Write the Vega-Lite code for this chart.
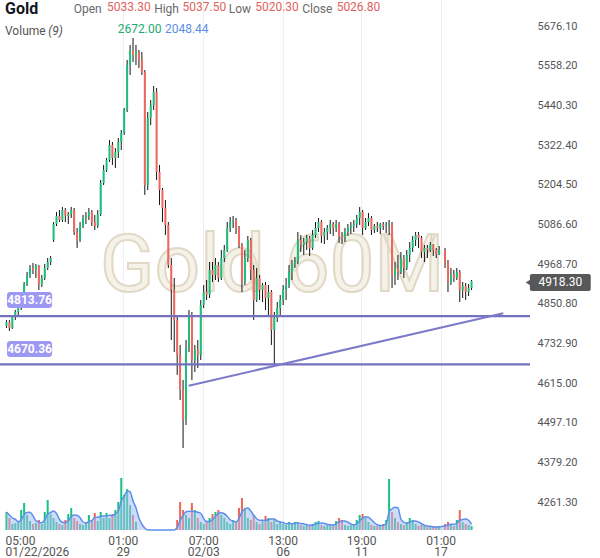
{
"$schema":"https://vega.github.io/schema/vega-lite/v6.json",
"width":530,"height":533,
"autosize":{"type":"none"},
"padding":{"left":0,"top":0,"right":70,"bottom":25},
"background":"white",
"config":{"view":{"stroke":null},"font":"Roboto","axis":{"labelFont":"Roboto"},"text":{"font":"Roboto"}},
"datasets":{"candles":[
{"i":0,"o":4784.5,"h":4802.4,"l":4778.6,"c":4796.4,"v":1800},
{"i":1,"o":4796.4,"h":4802.4,"l":4769.7,"c":4778.6,"v":1200},
{"i":2,"o":4778.6,"h":4817.2,"l":4775.6,"c":4814.2,"v":600},
{"i":3,"o":4814.2,"h":4832.1,"l":4802.4,"c":4826.1,"v":700},
{"i":4,"o":4826.1,"h":4843.9,"l":4814.2,"c":4838.0,"v":800},
{"i":5,"o":4838.0,"h":4873.7,"l":4832.1,"c":4867.7,"v":2000},
{"i":6,"o":4867.7,"h":4915.3,"l":4861.8,"c":4909.4,"v":2700},
{"i":7,"o":4909.4,"h":4945.0,"l":4903.4,"c":4933.1,"v":1500},
{"i":8,"o":4933.1,"h":4965.8,"l":4927.2,"c":4956.9,"v":900},
{"i":9,"o":4956.9,"h":4971.8,"l":4939.1,"c":4951.0,"v":600},
{"i":10,"o":4951.0,"h":4968.8,"l":4927.2,"c":4962.8,"v":700},
{"i":11,"o":4962.8,"h":4965.8,"l":4891.5,"c":4906.4,"v":1000},
{"i":12,"o":4906.4,"h":4936.1,"l":4900.4,"c":4927.2,"v":600},
{"i":13,"o":4927.2,"h":4968.8,"l":4921.2,"c":4956.9,"v":1800},
{"i":14,"o":4956.9,"h":4986.6,"l":4951.0,"c":4974.7,"v":3000},
{"i":15,"o":4974.7,"h":4992.6,"l":4965.8,"c":4986.6,"v":1600},
{"i":16,"o":5040.1,"h":5093.6,"l":5034.2,"c":5087.7,"v":1200},
{"i":17,"o":5087.7,"h":5123.3,"l":5081.7,"c":5111.4,"v":800},
{"i":18,"o":5111.4,"h":5129.3,"l":5093.6,"c":5099.6,"v":600},
{"i":19,"o":5099.6,"h":5138.2,"l":5093.6,"c":5129.3,"v":500},
{"i":20,"o":5129.3,"h":5135.2,"l":5093.6,"c":5111.4,"v":1000},
{"i":21,"o":5111.4,"h":5123.3,"l":5087.7,"c":5117.4,"v":1600},
{"i":22,"o":5117.4,"h":5138.2,"l":5105.5,"c":5129.3,"v":2200},
{"i":23,"o":5129.3,"h":5135.2,"l":5055.0,"c":5063.9,"v":1200},
{"i":24,"o":5063.9,"h":5075.8,"l":5016.3,"c":5040.1,"v":900},
{"i":25,"o":5040.1,"h":5093.6,"l":5034.2,"c":5081.7,"v":600},
{"i":26,"o":5081.7,"h":5114.4,"l":5075.8,"c":5105.5,"v":500},
{"i":27,"o":5105.5,"h":5123.3,"l":5087.7,"c":5111.4,"v":800},
{"i":28,"o":5111.4,"h":5135.2,"l":5099.6,"c":5123.3,"v":1500},
{"i":29,"o":5123.3,"h":5129.3,"l":5081.7,"c":5093.6,"v":1000},
{"i":30,"o":5093.6,"h":5114.4,"l":5069.8,"c":5081.7,"v":1700},
{"i":31,"o":5081.7,"h":5129.3,"l":5075.8,"c":5117.4,"v":900},
{"i":32,"o":5117.4,"h":5218.4,"l":5111.4,"c":5209.5,"v":1800},
{"i":33,"o":5209.5,"h":5263.0,"l":5203.6,"c":5248.2,"v":1200},
{"i":34,"o":5248.2,"h":5283.8,"l":5242.2,"c":5277.9,"v":1700},
{"i":35,"o":5277.9,"h":5337.3,"l":5271.9,"c":5322.5,"v":1200},
{"i":36,"o":5322.5,"h":5331.4,"l":5263.0,"c":5283.8,"v":1600},
{"i":37,"o":5283.8,"h":5313.5,"l":5254.1,"c":5301.7,"v":2000},
{"i":38,"o":5301.7,"h":5343.3,"l":5283.8,"c":5331.4,"v":2800},
{"i":39,"o":5331.4,"h":5367.0,"l":5307.6,"c":5358.1,"v":5200},
{"i":40,"o":5358.1,"h":5432.4,"l":5352.2,"c":5426.5,"v":3500},
{"i":41,"o":5426.5,"h":5575.1,"l":5420.5,"c":5560.2,"v":4100},
{"i":42,"o":5560.2,"h":5619.7,"l":5530.5,"c":5604.8,"v":2500},
{"i":43,"o":5604.8,"h":5640.5,"l":5569.1,"c":5589.9,"v":1500},
{"i":44,"o":5589.9,"h":5619.7,"l":5560.2,"c":5598.9,"v":800},
{"i":45,"o":5598.9,"h":5604.8,"l":5551.3,"c":5575.1,"v":0},
{"i":46,"o":5575.1,"h":5598.9,"l":5530.5,"c":5539.4,"v":0},
{"i":47,"o":5539.4,"h":5545.4,"l":5173.9,"c":5203.6,"v":0},
{"i":48,"o":5203.6,"h":5420.5,"l":5188.7,"c":5402.7,"v":0},
{"i":49,"o":5402.7,"h":5456.2,"l":5381.9,"c":5441.3,"v":0},
{"i":50,"o":5441.3,"h":5497.8,"l":5426.5,"c":5480.0,"v":0},
{"i":51,"o":5480.0,"h":5491.9,"l":5218.4,"c":5242.2,"v":0},
{"i":52,"o":5242.2,"h":5263.0,"l":5144.1,"c":5188.7,"v":0},
{"i":53,"o":5188.7,"h":5194.7,"l":5093.6,"c":5135.2,"v":0},
{"i":54,"o":5135.2,"h":5159.0,"l":5055.0,"c":5084.7,"v":0},
{"i":55,"o":5084.7,"h":5093.6,"l":4956.9,"c":4965.8,"v":0},
{"i":56,"o":4965.8,"h":4986.6,"l":4742.9,"c":4891.5,"v":0},
{"i":57,"o":4891.5,"h":4927.2,"l":4707.3,"c":4802.4,"v":0},
{"i":58,"o":4802.4,"h":4817.2,"l":4638.9,"c":4698.3,"v":1000},
{"i":59,"o":4698.3,"h":4728.1,"l":4564.6,"c":4594.3,"v":2800},
{"i":60,"o":4594.3,"h":4624.0,"l":4422.0,"c":4505.2,"v":2000},
{"i":61,"o":4505.2,"h":4742.9,"l":4490.3,"c":4719.1,"v":1500},
{"i":62,"o":4719.1,"h":4832.1,"l":4707.3,"c":4817.2,"v":1200},
{"i":63,"o":4817.2,"h":4826.1,"l":4624.0,"c":4683.5,"v":2700},
{"i":64,"o":4683.5,"h":4728.1,"l":4647.8,"c":4713.2,"v":2000},
{"i":65,"o":4713.2,"h":4742.9,"l":4659.7,"c":4698.3,"v":1200},
{"i":66,"o":4698.3,"h":4861.8,"l":4683.5,"c":4846.9,"v":800},
{"i":67,"o":4846.9,"h":4906.4,"l":4838.0,"c":4885.6,"v":600},
{"i":68,"o":4885.6,"h":4921.2,"l":4861.8,"c":4876.7,"v":800},
{"i":69,"o":4876.7,"h":4974.7,"l":4867.7,"c":4951.0,"v":1200},
{"i":70,"o":4951.0,"h":4974.7,"l":4915.3,"c":4936.1,"v":1600},
{"i":71,"o":4936.1,"h":4986.6,"l":4921.2,"c":4965.8,"v":1800},
{"i":72,"o":4965.8,"h":4974.7,"l":4915.3,"c":4927.2,"v":2000},
{"i":73,"o":4927.2,"h":5010.4,"l":4921.2,"c":4986.6,"v":1500},
{"i":74,"o":4986.6,"h":5025.3,"l":4974.7,"c":5010.4,"v":1200},
{"i":75,"o":5010.4,"h":5093.6,"l":5004.5,"c":5075.8,"v":800},
{"i":76,"o":5075.8,"h":5108.5,"l":5063.9,"c":5093.6,"v":600},
{"i":77,"o":5093.6,"h":5111.4,"l":5075.8,"c":5099.6,"v":1000},
{"i":78,"o":5099.6,"h":5105.5,"l":5057.9,"c":5075.8,"v":800},
{"i":79,"o":5075.8,"h":5081.7,"l":5016.3,"c":5025.3,"v":2200},
{"i":80,"o":5025.3,"h":5031.2,"l":4885.6,"c":4915.3,"v":3200},
{"i":81,"o":4915.3,"h":5010.4,"l":4906.4,"c":4986.6,"v":2200},
{"i":82,"o":4986.6,"h":5052.0,"l":4974.7,"c":5040.1,"v":1200},
{"i":83,"o":5040.1,"h":5046.1,"l":4921.2,"c":4951.0,"v":1000},
{"i":84,"o":4951.0,"h":4965.8,"l":4802.4,"c":4861.8,"v":1500},
{"i":85,"o":4861.8,"h":4956.9,"l":4855.9,"c":4927.2,"v":800},
{"i":86,"o":4927.2,"h":4936.1,"l":4861.8,"c":4891.5,"v":600},
{"i":87,"o":4891.5,"h":4912.3,"l":4855.9,"c":4906.4,"v":1000},
{"i":88,"o":4906.4,"h":4915.3,"l":4832.1,"c":4867.7,"v":1400},
{"i":89,"o":4867.7,"h":4906.4,"l":4817.2,"c":4885.6,"v":1200},
{"i":90,"o":4885.6,"h":4891.5,"l":4728.1,"c":4772.6,"v":800},
{"i":91,"o":4772.6,"h":4826.1,"l":4668.6,"c":4808.3,"v":1000},
{"i":92,"o":4808.3,"h":4855.9,"l":4796.4,"c":4838.0,"v":600},
{"i":93,"o":4838.0,"h":4876.7,"l":4814.2,"c":4861.8,"v":800},
{"i":94,"o":4861.8,"h":4906.4,"l":4846.9,"c":4891.5,"v":600},
{"i":95,"o":4891.5,"h":4927.2,"l":4861.8,"c":4906.4,"v":500},
{"i":96,"o":4906.4,"h":4965.8,"l":4897.5,"c":4945.0,"v":800},
{"i":97,"o":4945.0,"h":4980.7,"l":4921.2,"c":4965.8,"v":600},
{"i":98,"o":4965.8,"h":4989.6,"l":4956.9,"c":4974.7,"v":800},
{"i":99,"o":4974.7,"h":5063.9,"l":4968.8,"c":5040.1,"v":700},
{"i":100,"o":5040.1,"h":5055.0,"l":5004.5,"c":5025.3,"v":500},
{"i":101,"o":5025.3,"h":5046.1,"l":4995.5,"c":5034.2,"v":400},
{"i":102,"o":5034.2,"h":5055.0,"l":5010.4,"c":5046.1,"v":600},
{"i":103,"o":5046.1,"h":5052.0,"l":4992.6,"c":5016.3,"v":400},
{"i":104,"o":5016.3,"h":5069.8,"l":5010.4,"c":5055.0,"v":600},
{"i":105,"o":5055.0,"h":5093.6,"l":5046.1,"c":5075.8,"v":800},
{"i":106,"o":5075.8,"h":5105.5,"l":5063.9,"c":5093.6,"v":900},
{"i":107,"o":5093.6,"h":5099.6,"l":5031.2,"c":5052.0,"v":500},
{"i":108,"o":5052.0,"h":5075.8,"l":5028.2,"c":5063.9,"v":400},
{"i":109,"o":5063.9,"h":5084.7,"l":5040.1,"c":5075.8,"v":500},
{"i":110,"o":5075.8,"h":5099.6,"l":5057.9,"c":5087.7,"v":600},
{"i":111,"o":5087.7,"h":5093.6,"l":5052.0,"c":5075.8,"v":500},
{"i":112,"o":5075.8,"h":5099.6,"l":5063.9,"c":5087.7,"v":900},
{"i":113,"o":5087.7,"h":5093.6,"l":5031.2,"c":5052.0,"v":1200},
{"i":114,"o":5052.0,"h":5063.9,"l":5028.2,"c":5046.1,"v":1000},
{"i":115,"o":5046.1,"h":5075.8,"l":5034.2,"c":5063.9,"v":500},
{"i":116,"o":5063.9,"h":5087.7,"l":5052.0,"c":5075.8,"v":400},
{"i":117,"o":5075.8,"h":5093.6,"l":5057.9,"c":5081.7,"v":500},
{"i":118,"o":5081.7,"h":5099.6,"l":5063.9,"c":5087.7,"v":600},
{"i":119,"o":5087.7,"h":5114.4,"l":5075.8,"c":5105.5,"v":1000},
{"i":120,"o":5105.5,"h":5138.2,"l":5084.7,"c":5123.3,"v":1500},
{"i":121,"o":5123.3,"h":5129.3,"l":5055.0,"c":5075.8,"v":1600},
{"i":122,"o":5075.8,"h":5105.5,"l":5069.8,"c":5093.6,"v":1200},
{"i":123,"o":5093.6,"h":5120.4,"l":5081.7,"c":5105.5,"v":800},
{"i":124,"o":5105.5,"h":5111.4,"l":5055.0,"c":5069.8,"v":500},
{"i":125,"o":5069.8,"h":5087.7,"l":5060.9,"c":5081.7,"v":400},
{"i":126,"o":5081.7,"h":5093.6,"l":5063.9,"c":5075.8,"v":400},
{"i":127,"o":5075.8,"h":5090.6,"l":5057.9,"c":5087.7,"v":500},
{"i":128,"o":5087.7,"h":5093.6,"l":5069.8,"c":5081.7,"v":600},
{"i":129,"o":5081.7,"h":5093.6,"l":5060.9,"c":5084.7,"v":1000},
{"i":130,"o":5084.7,"h":5099.6,"l":5055.0,"c":5090.6,"v":5100},
{"i":131,"o":5090.6,"h":5093.6,"l":4897.5,"c":4936.1,"v":1800},
{"i":132,"o":4936.1,"h":4974.7,"l":4906.4,"c":4956.9,"v":1200},
{"i":133,"o":4956.9,"h":4995.5,"l":4921.2,"c":4945.0,"v":800},
{"i":134,"o":4945.0,"h":5004.5,"l":4939.1,"c":4986.6,"v":600},
{"i":135,"o":4986.6,"h":4995.5,"l":4927.2,"c":4956.9,"v":500},
{"i":136,"o":4956.9,"h":5010.4,"l":4951.0,"c":4995.5,"v":800},
{"i":137,"o":4995.5,"h":5034.2,"l":4974.7,"c":5016.3,"v":1200},
{"i":138,"o":5016.3,"h":5052.0,"l":5004.5,"c":5040.1,"v":1000},
{"i":139,"o":5040.1,"h":5063.9,"l":5022.3,"c":5055.0,"v":600},
{"i":140,"o":5055.0,"h":5063.9,"l":5016.3,"c":5046.1,"v":400},
{"i":141,"o":5046.1,"h":5052.0,"l":4986.6,"c":5004.5,"v":500},
{"i":142,"o":5004.5,"h":5025.3,"l":4974.7,"c":5016.3,"v":400},
{"i":143,"o":5016.3,"h":5025.3,"l":4986.6,"c":5010.4,"v":300},
{"i":144,"o":5010.4,"h":5034.2,"l":5004.5,"c":5025.3,"v":300},
{"i":145,"o":5025.3,"h":5028.2,"l":4992.6,"c":5010.4,"v":300},
{"i":146,"o":5010.4,"h":5016.3,"l":4986.6,"c":4998.5,"v":300},
{"i":147,"o":4998.5,"h":5022.3,"l":4995.5,"c":5010.4,"v":400},
{"i":149,"o":5010.4,"h":5016.3,"l":4956.9,"c":4974.7,"v":600},
{"i":150,"o":4974.7,"h":4980.7,"l":4885.6,"c":4915.3,"v":800},
{"i":151,"o":4915.3,"h":4956.9,"l":4906.4,"c":4936.1,"v":500},
{"i":152,"o":4936.1,"h":4951.0,"l":4915.3,"c":4927.2,"v":400},
{"i":153,"o":4927.2,"h":4956.9,"l":4921.2,"c":4945.0,"v":1000},
{"i":154,"o":4945.0,"h":4951.0,"l":4855.9,"c":4891.5,"v":2000},
{"i":155,"o":4891.5,"h":4915.3,"l":4867.7,"c":4903.4,"v":800},
{"i":156,"o":4903.4,"h":4912.3,"l":4861.8,"c":4885.6,"v":600},
{"i":157,"o":4885.6,"h":4909.4,"l":4873.7,"c":4897.5,"v":500},
{"i":158,"o":4897.5,"h":4921.2,"l":4891.5,"c":4918.3,"v":400}
]},
"data":{"name":"candles"},
"layer":[
{"layer":[
{"data":{"values":[{}]},"mark":{"type":"text","text":"Gold 60M","align":"center","baseline":"alphabetic","fontSize":80,"fontWeight":400,"fill":"#f5f2ea","stroke":"#e1d9c5","strokeWidth":2},
 "encoding":{"x":{"datum":90.3},"y":{"datum":4888.6}}},
{"mark":{"type":"rule","color":"#151515","strokeWidth":1},
 "encoding":{
  "x":{"field":"i","type":"quantitative","title":null,"scale":{"domain":[-0.5,176.1667],"nice":false,"zero":false},
   "axis":{"values":[-0.5,39.5,66.83,93.83,120.5,147.5],
    "labelExpr":"datum.value < 0 ? ['05:00','01/22/2026'] : datum.value < 50 ? ['01:00','29'] : datum.value < 80 ? ['07:00','02/03'] : datum.value < 100 ? ['13:00','06'] : datum.value < 130 ? ['19:00','11'] : ['01:00','17']",
    "domain":false,"ticks":false,"grid":true,"gridColor":"#efefef",
    "gridOpacity":{"condition":{"test":"datum.value < 0","value":0},"value":1},
    "labelAlign":{"condition":{"test":"datum.value < 0","value":"left"},"value":"center"},
    "labelColor":"#555","labelFontSize":12,"labelPadding":2,"labelLineHeight":11.5,"labelOverlap":false,"labelBound":false,"title":null}},
  "y":{"field":"l","type":"quantitative","title":null,"scale":{"domain":[4169.3,5753.4],"nice":false,"zero":false},
   "axis":{"orient":"right","values":[4261.3,4379.2,4497.1,4615.0,4732.9,4850.8,4968.7,5086.6,5204.5,5322.4,5440.3,5558.2,5676.1],
    "format":".2f","domain":false,"ticks":false,"gridColor":"#efefef","labelColor":"#555","labelFontSize":11,"labelPadding":7,"labelOverlap":false,"title":null}},
  "y2":{"field":"h"}}},
{"mark":{"type":"bar","size":2},
 "encoding":{
  "x":{"field":"i","type":"quantitative","title":null},
  "y":{"field":"o","type":"quantitative","title":null},
  "y2":{"field":"c"},
  "color":{"condition":{"test":"datum.c >= datum.o","value":"#1bbf7b"},"value":"#f1665c"}}},
{"data":{"values":[{}]},"mark":{"type":"rule","color":"#7471bf","strokeWidth":2.2},"encoding":{"y":{"datum":4813.76}}},
{"data":{"values":[{}]},"mark":{"type":"rule","color":"#7471bf","strokeWidth":2.2},"encoding":{"y":{"datum":4670.36}}},
{"data":{"values":[{}]},"mark":{"type":"rule","color":"#7d7ac9","strokeWidth":2},
 "encoding":{"x":{"datum":61.9},"y":{"datum":4607.1},"x2":{"datum":168.8},"y2":{"datum":4822.6}}},
{"data":{"values":[{}]},"mark":{"type":"rect","fill":"#9d99f2","cornerRadius":3},
 "encoding":{"x":{"datum":0.17},"x2":{"datum":15.5},"y":{"datum":4885.6},"y2":{"datum":4838.0}}},
{"data":{"values":[{}]},"mark":{"type":"text","text":"4813.76","color":"white","fontWeight":"bold","fontSize":12,"align":"center","baseline":"middle"},
 "encoding":{"x":{"datum":7.83},"y":{"datum":4861.0}}},
{"data":{"values":[{}]},"mark":{"type":"rect","fill":"#9d99f2","cornerRadius":3},
 "encoding":{"x":{"datum":0.17},"x2":{"datum":15.5},"y":{"datum":4740.0},"y2":{"datum":4692.4}}},
{"data":{"values":[{}]},"mark":{"type":"text","text":"4670.36","color":"white","fontWeight":"bold","fontSize":12,"align":"center","baseline":"middle"},
 "encoding":{"x":{"datum":7.83},"y":{"datum":4715.5}}},
{"data":{"values":[{}]},"mark":{"type":"rect","fill":"#585858","cornerRadius":2},
 "encoding":{"x":{"datum":177.83},"x2":{"datum":198.5},"y":{"datum":4939.1},"y2":{"datum":4888.6}}},
{"data":{"values":[{}]},"mark":{"type":"point","shape":"triangle-left","filled":true,"color":"#585858","size":40,"opacity":1},
 "encoding":{"x":{"datum":177.3},"y":{"datum":4913.8}}},
{"data":{"values":[{}]},"mark":{"type":"text","text":"4918.30","color":"white","fontSize":12,"align":"center","baseline":"middle"},
 "encoding":{"x":{"datum":188.2},"y":{"datum":4913.8}}},
{"data":{"values":[{}]},"mark":{"type":"text","text":"Gold","color":"#131722","fontWeight":"bold","fontSize":16,"align":"left","baseline":"alphabetic"},
 "encoding":{"x":{"datum":-0.5},"y":{"datum":5710.8}}},
{"data":{"values":[{}]},"mark":{"type":"text","text":"Open","color":"#6a6a6a","fontSize":12,"align":"left","baseline":"alphabetic"},
 "encoding":{"x":{"datum":22.83},"y":{"datum":5713.8}}},
{"data":{"values":[{}]},"mark":{"type":"text","text":"5033.30","color":"#e0625e","fontSize":12,"align":"left","baseline":"alphabetic"},
 "encoding":{"x":{"datum":34.17},"y":{"datum":5719.7}}},
{"data":{"values":[{}]},"mark":{"type":"text","text":"High","color":"#6a6a6a","fontSize":12,"align":"left","baseline":"alphabetic"},
 "encoding":{"x":{"datum":50.17},"y":{"datum":5713.8}}},
{"data":{"values":[{}]},"mark":{"type":"text","text":"5037.50","color":"#e0625e","fontSize":12,"align":"left","baseline":"alphabetic"},
 "encoding":{"x":{"datum":59.83},"y":{"datum":5719.7}}},
{"data":{"values":[{}]},"mark":{"type":"text","text":"Low","color":"#6a6a6a","fontSize":12,"align":"left","baseline":"alphabetic"},
 "encoding":{"x":{"datum":75.5},"y":{"datum":5713.8}}},
{"data":{"values":[{}]},"mark":{"type":"text","text":"5020.30","color":"#e0625e","fontSize":12,"align":"left","baseline":"alphabetic"},
 "encoding":{"x":{"datum":84.5},"y":{"datum":5719.7}}},
{"data":{"values":[{}]},"mark":{"type":"text","text":"Close","color":"#6a6a6a","fontSize":12,"align":"left","baseline":"alphabetic"},
 "encoding":{"x":{"datum":100.5},"y":{"datum":5713.8}}},
{"data":{"values":[{}]},"mark":{"type":"text","text":"5026.80","color":"#e0625e","fontSize":12,"align":"left","baseline":"alphabetic"},
 "encoding":{"x":{"datum":112.17},"y":{"datum":5719.7}}},
{"data":{"values":[{}]},"mark":{"type":"text","text":"Volume","color":"#555","fontSize":12,"align":"left","baseline":"alphabetic"},
 "encoding":{"x":{"datum":-0.5},"y":{"datum":5649.4}}},
{"data":{"values":[{}]},"mark":{"type":"text","text":"(9)","color":"#555","fontSize":12,"fontStyle":"italic","align":"left","baseline":"alphabetic"},
 "encoding":{"x":{"datum":14.17},"y":{"datum":5649.4}}},
{"data":{"values":[{}]},"mark":{"type":"text","text":"2672.00","color":"#22ab6f","fontSize":12,"align":"left","baseline":"alphabetic"},
 "encoding":{"x":{"datum":37.83},"y":{"datum":5655.3}}},
{"data":{"values":[{}]},"mark":{"type":"text","text":"2048.44","color":"#5b8ee8","fontSize":12,"align":"left","baseline":"alphabetic"},
 "encoding":{"x":{"datum":53.83},"y":{"datum":5655.3}}}
]},
{"layer":[
{"mark":{"type":"bar","size":2},
 "encoding":{
  "x":{"field":"i","type":"quantitative","title":null},
  "y":{"field":"v","type":"quantitative","title":null,"scale":{"domain":[-300,53000],"nice":false,"zero":false},"axis":null},
  "y2":{"datum":0},
  "color":{"condition":{"test":"datum.c >= datum.o","value":"#16c27f"},"value":"#f0645a"}}},
{"transform":[{"window":[{"op":"mean","field":"v","as":"ma"}],"frame":[-3,0],"sort":[{"field":"i"}]}],
 "mark":{"type":"area","interpolate":"monotone","fill":"#a5c0f4","fillOpacity":0.55,"line":{"color":"#5d8fec","strokeWidth":1.5}},
 "encoding":{
  "x":{"field":"i","type":"quantitative","title":null},
  "y":{"field":"ma","type":"quantitative","title":null,"axis":null},
  "y2":{"datum":0}}}
]}
],
"resolve":{"scale":{"y":"independent"}}
}
